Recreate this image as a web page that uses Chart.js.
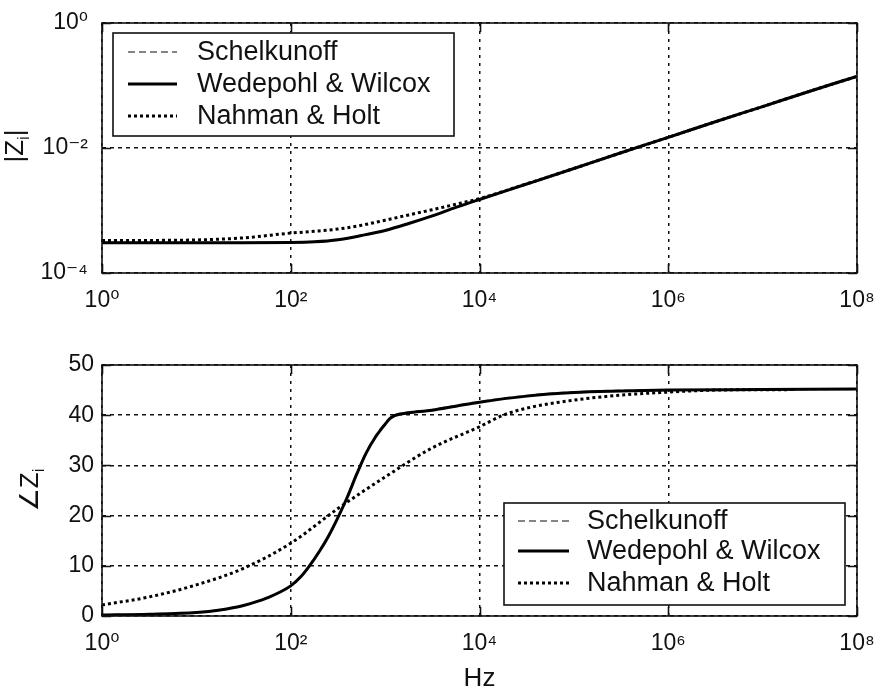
<!DOCTYPE html>
<html>
<head>
<meta charset="utf-8">
<script src="https://cdn.jsdelivr.net/npm/chart.js@4.4.1/dist/chart.umd.min.js"></script>
<style>
  html, body { margin: 0; padding: 0; background: #fff; }
  #wrap { position: relative; width: 877px; height: 692px; background: #fff; }
  #magCanvas { position: absolute; left: 0; top: 0; }
  #angCanvas { position: absolute; left: 0; top: 340px; }
</style>
</head>
<body>
<div id="wrap">
  <canvas id="magCanvas" width="877" height="340"></canvas>
  <canvas id="angCanvas" width="877" height="352"></canvas>
</div>
<script>
// Internal impedance of the conductor: three formulations.
const seriesNames = ['Schelkunoff', 'Wedepohl & Wilcox', 'Nahman & Holt'];

// Tick positions
const freqTicks = [1, 1e2, 1e4, 1e6, 1e8];
const magTicks = [1e-4, 1e-2, 1];
const angleTicks = [0, 10, 20, 30, 40, 50];

// |Zi| (ohm/m) versus frequency (Hz)
const magFreq = [1, 3.16, 10, 31.6, 100, 178, 316, 562, 1000, 1780, 3160, 5620,
                 1e4, 3.16e4, 1e5, 3.16e5, 1e6, 3.16e6, 1e7, 3.16e7, 1e8];
const magSchelkunoff = [3.05e-4, 3.05e-4, 3.05e-4, 3.05e-4, 3.07e-4, 3.13e-4, 3.37e-4, 3.96e-4,
                        4.8e-4, 6.2e-4, 8.2e-4, 1.12e-3, 1.5e-3, 2.65e-3, 4.7e-3, 8.4e-3,
                        1.48e-2, 2.63e-2, 4.6e-2, 8.1e-2, 1.4e-1];
const magWedepohl = [3.05e-4, 3.05e-4, 3.05e-4, 3.05e-4, 3.07e-4, 3.15e-4, 3.4e-4, 3.98e-4,
                     4.8e-4, 6.2e-4, 8.2e-4, 1.12e-3, 1.5e-3, 2.65e-3, 4.7e-3, 8.4e-3,
                     1.48e-2, 2.63e-2, 4.6e-2, 8.1e-2, 1.4e-1];
const magNahman = [3.3e-4, 3.32e-4, 3.38e-4, 3.65e-4, 4.35e-4, 4.65e-4, 5.05e-4, 5.8e-4,
                   7.0e-4, 8.5e-4, 1.03e-3, 1.26e-3, 1.55e-3, 2.67e-3, 4.7e-3, 8.4e-3,
                   1.48e-2, 2.63e-2, 4.6e-2, 8.1e-2, 1.4e-1];

// Angle of Zi (degrees) versus frequency (Hz)
const angFreq = [1, 3.16, 10, 17.8, 31.6, 56.2, 100, 126, 158, 200, 251, 316, 398, 501, 631, 794,
                 1000, 1120, 1260, 1410, 1780, 3160, 5620, 1e4, 3.16e4, 1e5, 3.16e5, 1e6, 1e7, 1e8];
const angSchelkunoff = [0.2, 0.35, 0.7, 1.2, 2.1, 3.6, 6.0, 7.7, 10.1, 12.9, 16.0, 19.7, 23.8, 28.4, 32.6, 35.9,
                        38.4, 39.4, 40.0, 40.3, 40.6, 41.1, 41.9, 42.7, 43.9, 44.6, 44.9, 45.0, 45.1, 45.2];
const angWedepohl = [0.2, 0.35, 0.7, 1.2, 2.1, 3.6, 6.0, 7.7, 10.0, 12.8, 15.9, 19.6, 23.7, 28.3, 32.5, 35.7,
                     38.2, 39.3, 39.9, 40.2, 40.5, 41.0, 41.8, 42.6, 43.8, 44.5, 44.8, 45.0, 45.1, 45.2];
const nahFreq = [1, 3.16, 10, 31.6, 100, 316, 1000, 3160, 1e4, 1.78e4, 3.16e4, 1e5, 3.16e5, 1e6, 3.16e6, 2.2e7];
const angNahman = [2.2, 3.8, 6.2, 9.5, 14.5, 21.4, 27.7, 33.5, 37.7, 40.0, 41.4, 43.0, 44.0, 44.6, 45.0, 45.1];

const FONT = '"Liberation Sans", Arial, "DejaVu Sans", sans-serif';
const INK = '#111';

const SUP = { '0': '\u2070', '1': '\u00B9', '2': '\u00B2', '3': '\u00B3', '4': '\u2074',
              '5': '\u2075', '6': '\u2076', '7': '\u2077', '8': '\u2078', '9': '\u2079', '-': '\u207B' };
function powLabel(v) {
  const e = String(Math.round(Math.log10(v)));
  return '10' + e.split('').map(c => SUP[c]).join('');
}
function pts(xs, ys) { return xs.map((x, i) => ({ x: x, y: ys[i] })); }

const styleSchelkunoff = { borderColor: '#858585', borderWidth: 2, borderDash: [7, 4], order: 3 };
const styleWedepohl = { borderColor: '#000', borderWidth: 3, borderDash: [], order: 1 };
const styleNahman = { borderColor: '#000', borderWidth: 3, borderDash: [3, 3], order: 2 };

// Axis box, inward tick marks, in-plot legend and the rotated y title
const framePlugin = {
  id: 'frame',
  afterDraw(chart, args, o) {
    const { ctx, chartArea: a, scales } = chart;
    ctx.save();
    ctx.setLineDash([]);
    ctx.strokeStyle = INK;
    ctx.lineWidth = 1.6;
    ctx.strokeRect(a.left, a.top, a.right - a.left, a.bottom - a.top);
    const L = 9;
    ctx.beginPath();
    scales.x.ticks.forEach(t => {
      const px = Math.round(scales.x.getPixelForValue(t.value)) + 0.5;
      ctx.moveTo(px, a.bottom); ctx.lineTo(px, a.bottom - L);
      ctx.moveTo(px, a.top); ctx.lineTo(px, a.top + L);
    });
    scales.y.ticks.forEach(t => {
      const py = Math.round(scales.y.getPixelForValue(t.value)) + 0.5;
      ctx.moveTo(a.left, py); ctx.lineTo(a.left + L, py);
      ctx.moveTo(a.right, py); ctx.lineTo(a.right - L, py);
    });
    ctx.stroke();

    // legend
    const lg = o.legend;
    ctx.fillStyle = '#fff';
    ctx.fillRect(lg.x, lg.y, lg.w, lg.h);
    ctx.lineWidth = 1.6;
    ctx.strokeStyle = INK;
    ctx.strokeRect(lg.x, lg.y, lg.w, lg.h);
    ctx.font = '27px ' + FONT;
    ctx.textBaseline = 'middle';
    ctx.textAlign = 'left';
    chart.data.datasets.forEach((ds, i) => {
      const y = lg.rows[i];
      ctx.save();
      ctx.strokeStyle = ds.borderColor;
      ctx.lineWidth = ds.borderWidth;
      ctx.setLineDash(ds.borderDash || []);
      ctx.beginPath();
      ctx.moveTo(lg.s0, y); ctx.lineTo(lg.s1, y);
      ctx.stroke();
      ctx.restore();
      ctx.fillStyle = INK;
      ctx.fillText(ds.label, lg.tx, y + 1);
    });

    // rotated y-axis title with subscript
    const tt = o.title;
    ctx.save();
    ctx.translate(tt.x, tt.y);
    ctx.rotate(-Math.PI / 2);
    ctx.fillStyle = INK;
    ctx.textBaseline = 'middle';
    let w = 0;
    tt.parts.forEach(p => { ctx.font = p.size + 'px ' + FONT; w += ctx.measureText(p.t).width; });
    let x = -w / 2;
    tt.parts.forEach(p => {
      ctx.font = p.size + 'px ' + FONT;
      ctx.fillText(p.t, x, p.dy);
      x += ctx.measureText(p.t).width;
    });
    ctx.restore();
    ctx.restore();
  }
};

const tickFont = { family: FONT, size: 23 };
const noEdgePad = s => { s.paddingLeft = 0; s.paddingRight = 0; s.paddingTop = 0; s.paddingBottom = 0; };

function xScale(h, extra) {
  return Object.assign({
    type: 'logarithmic', min: 1, max: 1e8,
    afterBuildTicks: s => { s.ticks = freqTicks.map(v => ({ value: v })); },
    afterFit: s => { s.height = h; noEdgePad(s); },
    ticks: { callback: v => powLabel(v), font: tickFont, color: INK, padding: 14,
             maxRotation: 0, autoSkip: false },
    grid: { color: INK, lineWidth: 1.5, drawTicks: false },
    border: { display: false, dash: [3, 5] }
  }, extra);
}

new Chart(document.getElementById('magCanvas'), {
  type: 'line',
  data: {
    datasets: [
      Object.assign({ label: seriesNames[0], data: pts(magFreq, magSchelkunoff) }, styleSchelkunoff),
      Object.assign({ label: seriesNames[1], data: pts(magFreq, magWedepohl) }, styleWedepohl),
      Object.assign({ label: seriesNames[2], data: pts(magFreq, magNahman) }, styleNahman)
    ]
  },
  options: {
    responsive: false, animation: false, devicePixelRatio: 1,
    layout: { padding: { top: 23, right: 20, left: 0, bottom: 0 } },
    elements: { point: { radius: 0 }, line: { cubicInterpolationMode: 'monotone', fill: false } },
    plugins: {
      legend: { display: false }, tooltip: { enabled: false },
      frame: {
        legend: { x: 113, y: 33, w: 341, h: 103, rows: [52, 84, 116], s0: 128, s1: 177, tx: 197 },
        title: { x: 16, y: 146, parts: [ { t: '|Z', size: 26, dy: 0 }, { t: 'i', size: 17, dy: 8 }, { t: '|', size: 26, dy: 0 } ] }
      }
    },
    scales: {
      x: xScale(67, {}),
      y: {
        type: 'logarithmic', min: 1e-4, max: 1,
        afterBuildTicks: s => { s.ticks = magTicks.map(v => ({ value: v })); },
        afterFit: s => { s.width = 102; noEdgePad(s); },
        ticks: { callback: v => powLabel(v), font: tickFont, color: INK, padding: 14, autoSkip: false },
        grid: { color: INK, lineWidth: 1.5, drawTicks: false },
        border: { display: false, dash: [4, 4] }
      }
    }
  },
  plugins: [framePlugin]
});

new Chart(document.getElementById('angCanvas'), {
  type: 'line',
  data: {
    datasets: [
      Object.assign({ label: seriesNames[0], data: pts(angFreq, angSchelkunoff) }, styleSchelkunoff),
      Object.assign({ label: seriesNames[1], data: pts(angFreq, angWedepohl) }, styleWedepohl),
      Object.assign({ label: seriesNames[2], data: pts(nahFreq, angNahman) }, styleNahman)
    ]
  },
  options: {
    responsive: false, animation: false, devicePixelRatio: 1,
    layout: { padding: { top: 25, right: 20, left: 0, bottom: 0 } },
    elements: { point: { radius: 0 }, line: { cubicInterpolationMode: 'monotone', fill: false } },
    plugins: {
      legend: { display: false }, tooltip: { enabled: false },
      frame: {
        legend: { x: 504, y: 163, w: 341, h: 102, rows: [181, 211, 243], s0: 518, s1: 569, tx: 587 },
        title: { x: 31, y: 150, parts: [ { t: '\u2220Z', size: 26, dy: 0 }, { t: 'i', size: 17, dy: 8 } ] }
      }
    },
    scales: {
      x: xScale(76, {
        title: { display: true, text: 'Hz', font: { family: FONT, size: 26, lineHeight: 1 }, color: INK,
                 padding: { top: 0, bottom: 0 } }
      }),
      y: {
        type: 'linear', min: 0, max: 50,
        afterBuildTicks: s => { s.ticks = angleTicks.map(v => ({ value: v })); },
        afterFit: s => { s.width = 102; noEdgePad(s); },
        ticks: { font: tickFont, color: INK, padding: 8, autoSkip: false },
        grid: { color: INK, lineWidth: 1.5, drawTicks: false },
        border: { display: false, dash: [4, 4] }
      }
    }
  },
  plugins: [framePlugin]
});
</script>
</body>
</html>
